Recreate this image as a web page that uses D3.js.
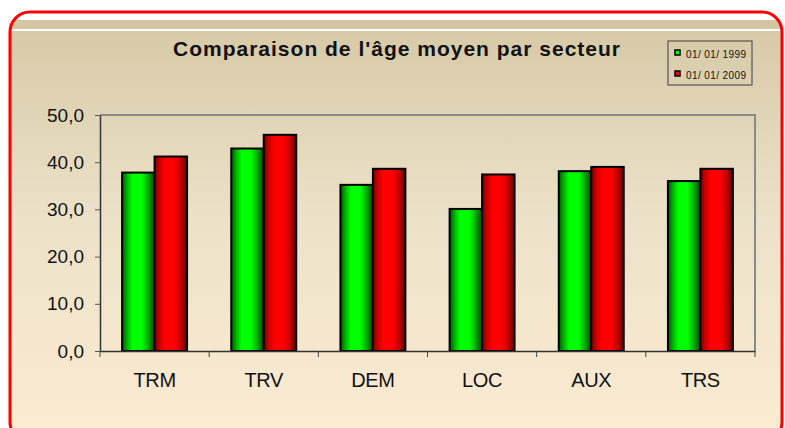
<!DOCTYPE html>
<html>
<head>
<meta charset="utf-8">
<script src="https://cdn.jsdelivr.net/npm/d3@7"></script>
<style>
  body { margin: 0; background: #ffffff; }
  #viz { width: 785px; height: 428px; overflow: hidden; }
</style>
</head>
<body>
<div id="viz"></div>
<script>
    //  Data
    var categories = ["TRM", "TRV", "DEM", "LOC", "AUX", "TRS"];
    var seriesNames = ["01/ 01/ 1999", "01/ 01/ 2009"];
    var values1999 = [37.8, 42.9, 35.2, 30.1, 38.1, 36.0];
    var values2009 = [41.2, 45.8, 38.6, 37.4, 39.0, 38.6];
    var yTicks = [0, 10, 20, 30, 40, 50];

    var fontFamily = "'Liberation Sans', Arial, sans-serif";

    // table built from the arrays for the grouped bars
    var table = categories.map(function(c, i) {
        return { cat: c, vals: [values1999[i], values2009[i]] };
    });

    var svg = d3.select("#viz").append("svg")
        .attr("width", 785)
        .attr("height", 428);

    var defs = svg.append("defs");

    // background gradient of the chart area
    var bg = defs.append("linearGradient")
        .attr("id", "bgGrad")
        .attr("x1", 0).attr("y1", 0).attr("x2", 0).attr("y2", 1);
    bg.append("stop").attr("offset", "0%").attr("stop-color", "#d7caa8");
    bg.append("stop").attr("offset", "45%").attr("stop-color", "#ece2c9");
    bg.append("stop").attr("offset", "100%").attr("stop-color", "#fcecd2");

    // the bars have a cylinder-like shading from left to right
    function barGradient(id, dark, mid, bright, darker) {
        var g = defs.append("linearGradient")
            .attr("id", id)
            .attr("x1", 0).attr("y1", 0).attr("x2", 1).attr("y2", 0);
        g.append("stop").attr("offset", "0%").attr("stop-color", dark);
        g.append("stop").attr("offset", "15%").attr("stop-color", mid);
        g.append("stop").attr("offset", "32%").attr("stop-color", bright);
        g.append("stop").attr("offset", "60%").attr("stop-color", bright);
        g.append("stop").attr("offset", "80%").attr("stop-color", mid);
        g.append("stop").attr("offset", "100%").attr("stop-color", darker);
    }
    barGradient("greenGrad", "#005800", "#00b000", "#00ff00", "#004400");
    barGradient("redGrad", "#780000", "#c80000", "#ff0000", "#5c0000");
    var fills = ["url(#greenGrad)", "url(#redGrad)"];
    var legendFills = ["#00ff00", "#ff0000"];

    // clip for the rounded frame
    defs.append("clipPath").attr("id", "frameClip")
        .append("rect")
        .attr("x", 10).attr("y", 12)
        .attr("width", 772).attr("height", 430)
        .attr("rx", 20).attr("ry", 20);

    var frame = svg.append("g").attr("clip-path", "url(#frameClip)");
    frame.append("rect")
        .attr("x", 0).attr("y", 0).attr("width", 785).attr("height", 450)
        .attr("fill", "#ffffff");
    frame.append("rect")
        .attr("x", 0).attr("y", 20).attr("width", 785).attr("height", 9)
        .attr("fill", "#d4c6a3");
    frame.append("rect")
        .attr("x", 0).attr("y", 31).attr("width", 785).attr("height", 420)
        .attr("fill", "url(#bgGrad)");

    // red rounded border
    svg.append("rect")
        .attr("x", 10).attr("y", 12)
        .attr("width", 772).attr("height", 430)
        .attr("rx", 20).attr("ry", 20)
        .attr("fill", "none")
        .attr("stroke", "#ff0000")
        .attr("stroke-width", 3);

    /*
        Plot area
    */
    var margin = { left: 100, right: 755, top: 115, bottom: 351 };

    var x = d3.scaleBand()
        .domain(categories)
        .range([margin.left, margin.right])
        .paddingInner(0.405)
        .paddingOuter(0.2025);

    var xSub = d3.scaleBand()
        .domain([0, 1])
        .range([0, x.bandwidth()]);

    var y = d3.scaleLinear()
        .domain([0, 50])
        .range([margin.bottom, margin.top]);

    // gray frame on top and right side of the plot
    svg.append("path")
        .attr("d", "M" + margin.left + "," + y(50) + "H" + margin.right + "V" + y(0))
        .attr("fill", "none")
        .attr("stroke", "#8a8a8a")
        .attr("stroke-width", 2);

    // bars
    var groups = svg.append("g").selectAll("g")
        .data(table)
        .enter()
        .append("g")
        .attr("transform", function(d) { return "translate(" + x(d.cat) + ",0)"; });

    groups.selectAll("rect")
        .data(function(d) { return d.vals; })
        .enter()
        .append("rect")
        .attr("x", function(d, i) { return xSub(i); })
        .attr("y", function(d) { return y(d); })
        .attr("width", xSub.bandwidth())
        .attr("height", function(d) { return y(0) - y(d); })
        .attr("fill", function(d, i) { return fills[i]; })
        .attr("stroke", "#000000")
        .attr("stroke-width", 2);

    // y axis
    var yAxis = svg.append("g")
        .attr("transform", "translate(" + margin.left + ",0)")
        .call(d3.axisLeft(y)
            .tickValues(yTicks)
            .tickSize(5)
            .tickPadding(11)
            .tickSizeOuter(0)
            .tickFormat(function(d) { return d3.format(".1f")(d).replace(".", ","); }));
    yAxis.select(".domain").attr("stroke", "#333333").attr("stroke-width", 1.5);
    yAxis.selectAll(".tick line").attr("stroke", "#555555");
    yAxis.selectAll("text")
        .attr("font-family", fontFamily)
        .attr("font-size", "19px")
        .attr("fill", "#111111");

    // x axis: labels at band centres, ticks between categories
    var xAxis = svg.append("g")
        .attr("transform", "translate(0," + margin.bottom + ")")
        .call(d3.axisBottom(x).tickSize(0).tickPadding(22).tickSizeOuter(0));
    xAxis.select(".domain").attr("stroke", "#333333").attr("stroke-width", 1.5);
    xAxis.selectAll("text")
        .attr("font-family", fontFamily)
        .attr("font-size", "20px")
        .attr("letter-spacing", "-0.4px")
        .attr("fill", "#111111");

    var boundaries = categories.map(function(c) { return x(c) - x.step() * x.paddingOuter(); });
    boundaries.push(margin.right);
    xAxis.selectAll(".sep")
        .data(boundaries)
        .enter()
        .append("line")
        .attr("class", "sep")
        .attr("x1", function(d) { return d; })
        .attr("x2", function(d) { return d; })
        .attr("y1", 0)
        .attr("y2", 6)
        .attr("stroke", "#444444");

    // title
    svg.append("text")
        .attr("x", 397)
        .attr("y", 56)
        .attr("text-anchor", "middle")
        .attr("font-family", fontFamily)
        .attr("font-size", "21px")
        .attr("font-weight", "bold")
        .attr("letter-spacing", "1px")
        .attr("fill", "#111111")
        .text("Comparaison de l'âge moyen par secteur");

    // legend
    var legend = svg.append("g").attr("transform", "translate(668,41)");
    legend.append("rect")
        .attr("width", 84).attr("height", 44)
        .attr("fill", "none")
        .attr("stroke", "#555555")
        .attr("stroke-width", 1.2);

    var items = legend.selectAll(".item")
        .data(seriesNames)
        .enter()
        .append("g")
        .attr("class", "item")
        .attr("transform", function(d, i) { return "translate(7," + (9 + i * 21) + ")"; });
    items.append("rect")
        .attr("width", 5).attr("height", 5)
        .attr("fill", function(d, i) { return legendFills[i]; })
        .attr("stroke", "#000000")
        .attr("stroke-width", 1.5);
    items.append("text")
        .attr("x", 11)
        .attr("y", 7.5)
        .attr("font-family", fontFamily)
        .attr("font-size", "10px")
        .attr("letter-spacing", "0.4px")
        .attr("fill", "#111111")
        .text(function(d) { return d; });
</script>
</body>
</html>
